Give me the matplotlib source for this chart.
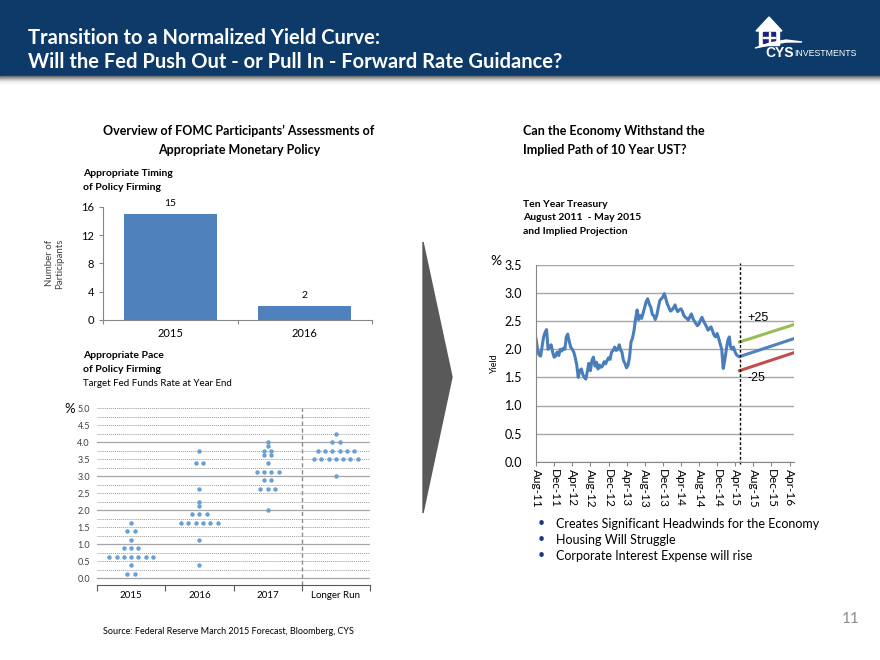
import matplotlib
matplotlib.use('Agg')
import matplotlib.pyplot as plt
from matplotlib.patches import Rectangle, Polygon
import pandas as pd
import numpy as np

plt.rcParams['font.family'] = ['Lato', 'DejaVu Sans']

W, H = 880, 660

# ---- data ----
timing_years = ['2015', '2016']
timing_counts = [15, 2]

dot_groups = ['2015', '2016', '2017', 'Longer Run']
dots_2015 = [0.125, 0.125, 0.375, 0.625, 0.625, 0.625, 0.625, 0.625, 0.625, 0.625,
             0.875, 0.875, 0.875, 1.125, 1.375, 1.375, 1.625]
dots_2016 = [0.375, 1.125, 1.625, 1.625, 1.625, 1.625, 1.625, 1.625, 1.875, 1.875,
             1.875, 2.125, 2.25, 2.625, 3.375, 3.375, 3.75]
dots_2017 = [2.0, 2.625, 2.625, 2.625, 2.875, 2.875, 3.125, 3.125, 3.125, 3.125,
             3.375, 3.625, 3.625, 3.75, 3.75, 3.875, 4.0]
dots_longer = [3.0, 3.5, 3.5, 3.5, 3.5, 3.5, 3.5, 3.5, 3.75, 3.75, 3.75, 3.75,
               3.75, 3.75, 4.0, 4.0, 4.25]

# ten year yield, three readings per month (1st, 11th, 21st) from Aug 2011 to Apr 2015
ust_10y = [2.19, 2.01, 1.90, 1.88, 2.05, 2.22, 2.30, 2.35, 2.00, 2.05, 2.08, 1.95,
           1.86, 1.88, 1.95, 1.89, 2.00, 1.97, 2.02, 2.00, 2.22, 2.27, 2.15, 2.04,
           2.00, 1.95, 1.85, 1.72, 1.50, 1.62, 1.65, 1.55, 1.50, 1.47, 1.60, 1.75,
           1.62, 1.80, 1.86, 1.70, 1.77, 1.65, 1.72, 1.68, 1.70, 1.78, 1.74, 1.80,
           1.85, 1.82, 1.95, 1.98, 2.04, 1.98, 2.00, 2.08, 1.98, 1.95, 1.80, 1.75,
           1.67, 1.72, 1.86, 2.13, 2.20, 2.33, 2.55, 2.70, 2.53, 2.60, 2.55, 2.64,
           2.75, 2.85, 2.90, 2.80, 2.75, 2.62, 2.60, 2.53, 2.60, 2.75, 2.87, 2.90,
           2.93, 2.99, 2.90, 2.80, 2.74, 2.68, 2.70, 2.74, 2.79, 2.72, 2.67, 2.70,
           2.72, 2.68, 2.60, 2.57, 2.55, 2.52, 2.58, 2.63, 2.55, 2.50, 2.46, 2.42,
           2.45, 2.52, 2.57, 2.50, 2.45, 2.40, 2.34, 2.37, 2.40, 2.32, 2.25, 2.22,
           2.28, 2.20, 2.10, 2.00, 1.66, 1.80, 2.00, 2.16, 2.22, 2.05, 2.00, 2.04,
           1.95, 1.90, 1.88]
proj_dates = ['2015-05-01', '2016-05-01']
proj_up = [2.13, 2.44]
proj_mid = [1.87, 2.19]
proj_down = [1.62, 1.94]

months = pd.date_range('2011-08-01', periods=45, freq='MS')
ust_dates = [m + pd.Timedelta(days=d) for m in months for d in (0, 10, 20)]
ust_ticks = pd.date_range('2011-08-01', '2016-04-01', freq='4MS')


def box(l, t, r, b):
    return [l / W, 1 - b / H, (r - l) / W, (b - t) / H]


def txt(x, y, s, **kw):
    kw.setdefault('va', 'center')
    fig.text(x / W, 1 - y / H, s, **kw)


fig = plt.figure(figsize=(8.8, 6.6), dpi=100)

# header band
fig.patches.append(Rectangle((0, 1 - 76 / H), 1, 76 / H, transform=fig.transFigure,
                             color='#0D3A69', zorder=0))
shades = ['#6e6e6e', '#8a8a8a', '#a5a5a5', '#bdbdbd', '#d3d3d3', '#e6e6e6', '#f3f3f3']
for i, c in enumerate(shades):
    fig.patches.append(Rectangle((0, 1 - (77 + i) / H), 1, 1 / H, transform=fig.transFigure,
                                 color=c, zorder=0))
txt(28, 38, 'Transition to a Normalized Yield Curve:', color='white', fontsize=14.5,
    fontweight='bold')
txt(28, 62, 'Will the Fed Push Out - or Pull In - Forward Rate Guidance?', color='white',
    fontsize=14.5, fontweight='bold')

# logo
tf = fig.transFigure
def P(x, y):
    return (x / W, 1 - y / H)
fig.patches.append(Polygon([P(756, 31), P(769, 17), P(782, 31)], closed=True,
                           transform=tf, color='white'))
fig.patches.append(Polygon([P(759, 30), P(779, 30), P(779, 45), P(759, 45)], closed=True,
                           transform=tf, color='white'))
fig.patches.append(Polygon([P(763, 32), P(775, 32), P(775, 43), P(763, 43)], closed=True,
                           transform=tf, color='#1a237e'))
fig.patches.append(Polygon([P(768.5, 32), P(769.5, 32), P(769.5, 43), P(768.5, 43)],
                           closed=True, transform=tf, color='white'))
fig.patches.append(Polygon([P(763, 37.1), P(775, 37.1), P(775, 37.9), P(763, 37.9)],
                           closed=True, transform=tf, color='white'))
fig.patches.append(Polygon([P(755, 48), P(770, 43), P(786, 40), P(802, 42), P(786, 42),
                            P(770, 45)], closed=True, transform=tf, color='white'))
txt(765, 53, 'CYS', color='white', fontsize=10, fontweight='bold',
    family=['Liberation Sans', 'DejaVu Sans'])
txt(794, 54, 'INVESTMENTS', color='white', fontsize=6.3,
    family=['Liberation Sans Narrow', 'Liberation Sans', 'DejaVu Sans'])

# section headings
txt(239, 131, 'Overview of FOMC Participants\u2019 Assessments of', ha='center',
    fontsize=9, fontweight='bold')
txt(239, 150, 'Appropriate Monetary Policy', ha='center', fontsize=9, fontweight='bold')
txt(523, 131, 'Can the Economy Withstand the', fontsize=9, fontweight='bold')
txt(523, 150, 'Implied Path of 10 Year UST?', fontsize=9, fontweight='bold')

txt(83, 173, 'Appropriate Timing', fontsize=7.5, fontweight='bold')
txt(83, 187, 'of Policy Firming', fontsize=7.5, fontweight='bold')
txt(83, 355, 'Appropriate Pace', fontsize=7.5, fontweight='bold')
txt(83, 369, 'of Policy Firming', fontsize=7.5, fontweight='bold')
txt(83, 384, 'Target Fed Funds Rate at Year End', fontsize=7)
txt(523, 205, 'Ten Year Treasury', fontsize=7.5, fontweight='bold')
txt(523, 218, 'August 2011  - May 2015', fontsize=7.5, fontweight='bold')
txt(523, 232, 'and Implied Projection', fontsize=7.5, fontweight='bold')

# arrow
fig.patches.append(Polygon([P(423, 242), P(452, 377), P(423, 513)], closed=True,
                           transform=tf, color='#595959'))

# ---- bar chart: timing ----
ax1 = fig.add_axes(box(103, 206.7, 372, 320))
xb = np.arange(len(timing_years)) + 0.5
bars = ax1.bar(xb, timing_counts, width=0.69, color='#4F81BD')
for x, v in zip(xb, timing_counts):
    ax1.text(x, v + 0.8, str(v), ha='center', va='bottom', fontsize=7.5)
ax1.set_xlim(0, 2)
ax1.set_ylim(0, 16)
ax1.set_yticks([0, 4, 8, 12, 16])
ax1.set_xticks([0, 1, 2])
ax1.set_xticklabels([])
ax1.set_xticks(xb, minor=True)
ax1.set_xticklabels(timing_years, minor=True, fontsize=8)
ax1.tick_params(axis='x', which='minor', length=0, pad=6)
ax1.tick_params(axis='both', which='major', length=3, color='#868686', labelsize=8)
for s in ['top', 'right']:
    ax1.spines[s].set_visible(False)
for s in ['left', 'bottom']:
    ax1.spines[s].set_color('#868686')
ax1.set_ylabel('Number of\nParticipants', fontsize=7, color='#404040', labelpad=12)

# ---- dot plot: pace ----
ax2 = fig.add_axes(box(97, 408, 370, 585))
ax2.set_xlim(0, 4)
ax2.set_ylim(-0.2, 5.0)
for v in np.arange(0, 5.01, 0.25):
    if v % 1 == 0 and v < 5:
        ax2.axhline(v, color='#a6a6a6', lw=0.9, zorder=1)
    else:
        ax2.axhline(v, color='#9a9a9a', lw=0.7, ls=(0, (1, 1)), zorder=1)
ax2.axvline(3, color='#8c8c8c', lw=1, ls=(0, (3, 2)), zorder=1)
gap = 0.107
for gi, vals in enumerate([dots_2015, dots_2016, dots_2017, dots_longer]):
    levels = sorted(set(vals))
    for lv in levels:
        n = vals.count(lv)
        xs = gi + 0.5 + gap * (np.arange(n) - (n - 1) / 2)
        ax2.plot(xs, [lv] * n, 'o', ms=3.2, color='#6A9FD3', mec='none', zorder=3)
ax2.set_yticks(np.arange(0, 5.01, 0.5))
ax2.set_yticklabels(['%.1f' % v for v in np.arange(0, 5.01, 0.5)], fontsize=6.5,
                    color='#404040')
ax2.tick_params(axis='y', length=0, pad=5)
ax2.set_xticks([0, 1, 2, 3, 4])
ax2.set_xticklabels([])
ax2.tick_params(axis='x', which='major', length=4, color='#595959')
ax2.set_xticks([0.5, 1.5, 2.5, 3.5], minor=True)
ax2.set_xticklabels(dot_groups, minor=True, fontsize=7)
ax2.tick_params(axis='x', which='minor', length=0, pad=4)
for s in ['top', 'right', 'left']:
    ax2.spines[s].set_visible(False)
ax2.spines['bottom'].set_color('#595959')
txt(70, 409, '%', fontsize=9.5, ha='center')

# ---- ten year treasury ----
ax3 = fig.add_axes(box(536, 265, 794, 461.7))
ax3.set_ylim(0, 3.5)
ax3.set_xlim(pd.Timestamp('2011-08-01'), pd.Timestamp('2016-05-01'))
ax3.set_yticks(np.arange(0, 3.51, 0.5))
ax3.set_yticklabels(['%.1f' % v for v in np.arange(0, 3.51, 0.5)], fontsize=9)
ax3.grid(axis='y', color='#a6a6a6', lw=1)
ax3.set_axisbelow(True)
ax3.plot(ust_dates, ust_10y, color='#4A7EBB', lw=2.2, solid_joinstyle='round')
pd_dates = pd.to_datetime(proj_dates)
ax3.plot(pd_dates, proj_up, color='#9BBB59', lw=2.2)
ax3.plot(pd_dates, proj_mid, color='#4F81BD', lw=2.2)
ax3.plot(pd_dates, proj_down, color='#C0504D', lw=2.2)
ax3.axvline(pd_dates[0], ymin=-0.01, ymax=1.01, color='black', lw=1, ls=(0, (2, 1.5)),
            clip_on=False)
ax3.text(pd.Timestamp('2015-06-25'), 2.56, '+25', fontsize=9, va='center',
         family=['Liberation Sans', 'DejaVu Sans'])
ax3.text(pd.Timestamp('2015-06-25'), 1.49, '-25', fontsize=9, va='center',
         family=['Liberation Sans', 'DejaVu Sans'])
ax3.set_xticks(ust_ticks)
ax3.set_xticklabels([d.strftime('%b-%y') for d in ust_ticks], rotation=270, fontsize=8.5)
ax3.tick_params(axis='x', length=3, color='#868686', pad=2)
ax3.tick_params(axis='y', length=0, pad=10)
for s in ['top', 'right']:
    ax3.spines[s].set_visible(False)
for s in ['left', 'bottom']:
    ax3.spines[s].set_color('#868686')
ax3.set_ylabel('Yield', fontsize=6.5, labelpad=4)
txt(496, 261, '%', fontsize=10, ha='center')

# bullets
for i, line in enumerate(['Creates Significant Headwinds for the Economy',
                          'Housing Will Struggle',
                          'Corporate Interest Expense will rise']):
    txt(541, 523 + 16 * i, '\u2022', fontsize=9, color='#1F3E79', ha='center')
    txt(556, 524 + 16 * i, line, fontsize=9)

txt(103, 632, 'Source: Federal Reserve March 2015 Forecast, Bloomberg, CYS', fontsize=6.5)
txt(851, 619, '11', fontsize=11, color='#8c8c8c', ha='center')

fig.savefig('out.png', dpi=100)
